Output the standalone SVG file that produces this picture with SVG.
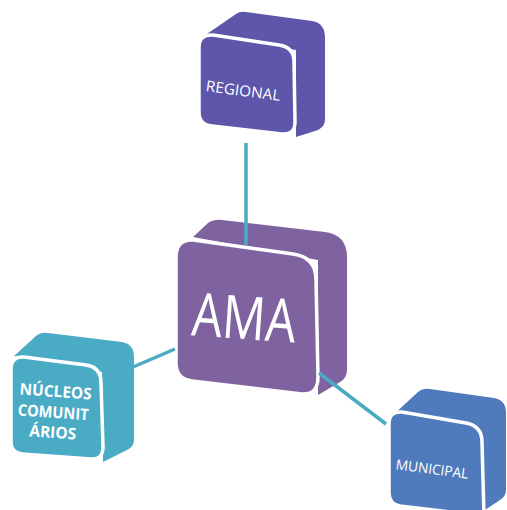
<svg xmlns="http://www.w3.org/2000/svg" width="507" height="510" viewBox="0 0 507 510">
<style>
.front{stroke:#ffffff;stroke-width:3.5;stroke-linejoin:round}
.lbl{fill:#ffffff;font-family:"Open Sans","Liberation Sans",sans-serif;text-anchor:middle}
.conn{stroke:#4aabc3;stroke-width:3.5;fill:none}
</style>
<rect width="507" height="510" fill="#ffffff"/>
<g id="regional">
<path fill="#5d56aa" d="M 204,36 L 236,14 Q 240,11 246,12 L 312,21 Q 325,23 325,38 L 325,120 Q 325,126 318,130 L 296,137 L 296,50 Z"/>
<path class="front" fill="#5d56aa" d="M 213,35 L 279,45 Q 294,47 294,62 L 295,122 Q 295,135 282,134 L 212,126 Q 199,125 199,112 L 199,48 Q 199,34 213,35 Z"/>
<text class="lbl" x="243" y="96" font-size="15" textLength="75" lengthAdjust="spacingAndGlyphs" transform="rotate(7.5,243,92)">REGIONAL</text>
</g>
<g id="ama">
<path fill="#7f62a0" d="M 193,237 L 208,223 Q 214,219 222,220 L 325,232 Q 347,235 347,257 L 347,370 Q 347,378 340,382 L 318,395 L 318,260 Z"/>
<path class="front" fill="#7f62a0" d="M 193,240 L 293,254 Q 316,257 316,280 L 318,377 Q 318,395 302,394 L 192,381 Q 176,379 176,363 L 176,258 Q 176,239 193,240 Z"/>
<text class="lbl" x="244" y="339" font-size="60" textLength="104" lengthAdjust="spacingAndGlyphs" transform="rotate(4,244,320)">AMA</text>
</g>
<g id="nucleos">
<path fill="#4aabc5" d="M 14,356 L 36,336 Q 41,332 48,333 L 122,342 Q 134,344 134,357 L 134,440 Q 134,447 127,450 L 103,462 L 102,372 Z"/>
<path class="front" fill="#4aabc5" d="M 24,357 L 86,365 Q 101,367 101,383 L 103,447 Q 103,460 91,459 L 22,454 Q 11,453 11,442 L 11,370 Q 11,356 24,357 Z"/>
<g transform="rotate(4,55,415)">
<text class="lbl" x="54" y="397" font-size="16" font-weight="bold" textLength="72" lengthAdjust="spacingAndGlyphs">NÚCLEOS</text>
<text class="lbl" x="53" y="418" font-size="16" font-weight="bold" textLength="71" lengthAdjust="spacingAndGlyphs">COMUNIT</text>
<text class="lbl" x="54" y="438" font-size="16" font-weight="bold" textLength="47" lengthAdjust="spacingAndGlyphs">ÁRIOS</text>
</g>
</g>
<g id="municipal">
<path fill="#4f7bbd" d="M 392,416 L 418,392 Q 423,388 430,389 L 494,398 Q 506,400 506,413 L 506,490 Q 506,496 500,500 L 482,512 L 481,430 Z"/>
<path class="front" fill="#4f7bbd" d="M 402,412 L 466,423 Q 482,426 482,442 L 484,516 L 400,506 Q 389,504 389,493 L 389,424 Q 389,411 402,412 Z"/>
<text class="lbl" x="432" y="474" font-size="14" textLength="73" lengthAdjust="spacingAndGlyphs" transform="rotate(7.5,432,470)">MUNICIPAL</text>
</g>
<g id="connectors">
<line class="conn" x1="246" y1="143" x2="246" y2="245"/>
<line class="conn" x1="133" y1="367" x2="175" y2="349"/>
<line class="conn" x1="319" y1="373" x2="386" y2="424"/>
</g>
</svg>
